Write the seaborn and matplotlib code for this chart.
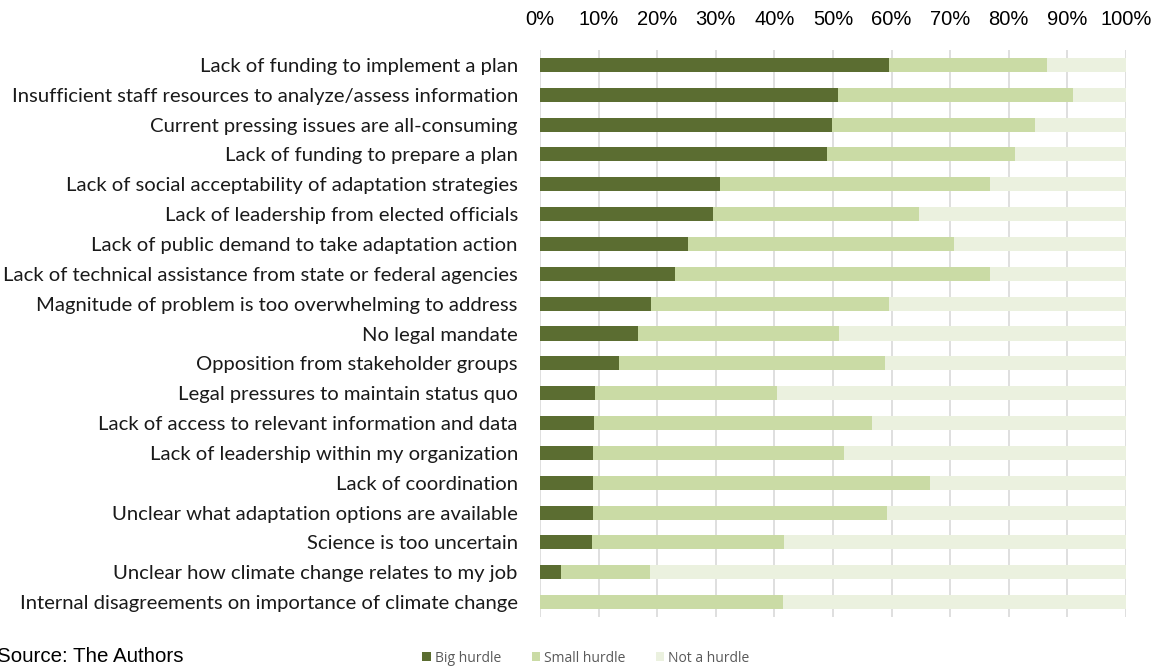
import matplotlib
matplotlib.use("Agg")
import matplotlib.pyplot as plt
import seaborn as sns
import pandas as pd
from matplotlib.patches import Patch
from matplotlib.ticker import PercentFormatter

# data (percent of respondents)
hurdles = [
    "Lack of funding to implement a plan",
    "Insufficient staff resources to analyze/assess information",
    "Current pressing issues are all-consuming",
    "Lack of funding to prepare a plan",
    "Lack of social acceptability of adaptation strategies",
    "Lack of leadership from elected officials",
    "Lack of public demand to take adaptation action",
    "Lack of technical assistance from state or federal agencies",
    "Magnitude of problem is too overwhelming to address",
    "No legal mandate",
    "Opposition from stakeholder groups",
    "Legal pressures to maintain status quo",
    "Lack of access to relevant information and data",
    "Lack of leadership within my organization",
    "Lack of coordination",
    "Unclear what adaptation options are available",
    "Science is too uncertain",
    "Unclear how climate change relates to my job",
    "Internal disagreements on importance of climate change",
]
big = [59.5, 50.8, 49.8, 49.0, 30.7, 29.5, 25.3, 23.0, 19.0, 16.8,
       13.5, 9.4, 9.2, 9.0, 9.0, 9.0, 8.9, 3.5, 0.0]
small = [27.0, 40.1, 34.7, 32.1, 46.1, 35.2, 45.3, 53.8, 40.5, 34.2,
         45.4, 31.0, 47.4, 42.9, 57.5, 50.3, 32.8, 15.3, 41.4]
not_hurdle = [100 - b - s for b, s in zip(big, small)]

series = ["Big hurdle", "Small hurdle", "Not a hurdle"]
colors = ["#5b6d31", "#cadba5", "#ebf1df"]

df = pd.DataFrame({"Hurdle": hurdles, "Big": big, "Small": small, "Not": not_hurdle})
df["cum_small"] = df["Big"] + df["Small"]
df["cum_not"] = df["cum_small"] + df["Not"]

sns.set_style("white")
plt.rcParams["font.family"] = ["Liberation Sans", "DejaVu Sans"]

fig = plt.figure(figsize=(11.58, 6.68), dpi=100)
ax = fig.add_axes([540 / 1158, 1 - 617 / 668, 586 / 1158, 567 / 668])

# stacked bars: draw the cumulative totals back to front
for col, c in zip(["cum_not", "cum_small", "Big"], colors[::-1]):
    sns.barplot(data=df, x=col, y="Hurdle", orient="h", color=c,
                width=0.47, ax=ax, zorder=3, linewidth=0, saturation=1)

ax.set_xlim(0, 100)
ax.set_xticks(range(0, 101, 10))
ax.xaxis.set_major_formatter(PercentFormatter(decimals=0))
ax.xaxis.tick_top()
ax.tick_params(axis="x", length=0, pad=15, labelsize=14.5, colors="#000000")
ax.tick_params(axis="y", length=0, pad=16)
for lab in ax.get_yticklabels():
    lab.set_fontfamily(["Lato", "DejaVu Sans"])
    lab.set_fontsize(14.6)
    lab.set_color("#1a1a1a")
ax.set_xlabel("")
ax.set_ylabel("")
ax.grid(axis="x", color="#d9d9d9", linewidth=1.2, zorder=0)
for s in ax.spines.values():
    s.set_visible(False)

handles = [Patch(facecolor=c, edgecolor="none") for c in colors]
fig.legend(handles, series, loc="center", bbox_to_anchor=(586 / 1158, 1 - 658 / 668),
           ncol=3, frameon=False, handlelength=0.6, handleheight=0.6,
           handletextpad=0.3, columnspacing=2.2,
           prop={"family": ["Open Sans", "DejaVu Sans"], "size": 10},
           labelcolor="#595959")

fig.text(-3 / 1158, 1 - 657 / 668, "Source: The Authors", fontsize=14.8,
         va="center", ha="left", color="#000000")

fig.savefig("out.png", dpi=100)
